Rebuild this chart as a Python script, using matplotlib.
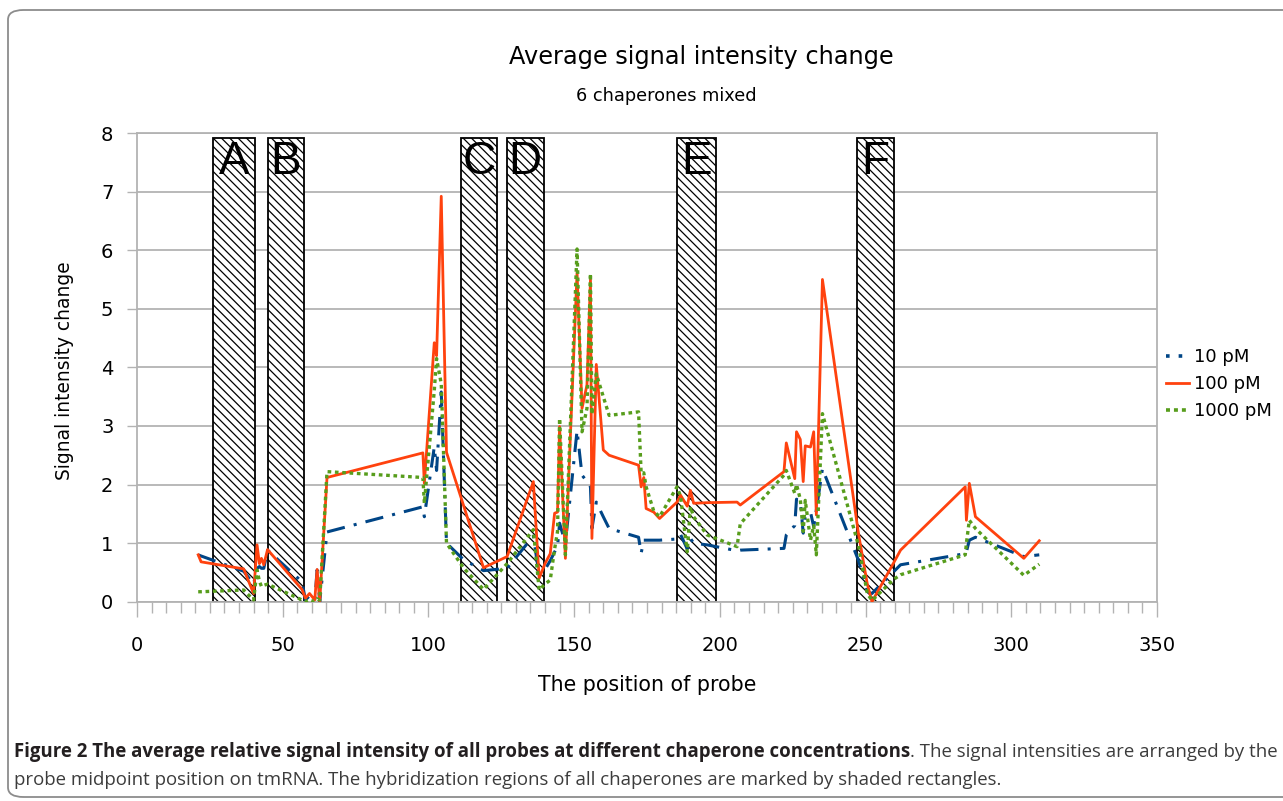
import matplotlib
matplotlib.use('Agg')
import matplotlib.pyplot as plt
from matplotlib.patches import Rectangle, FancyBboxPatch
from matplotlib.ticker import MultipleLocator
from matplotlib.lines import Line2D

# ---------------- data ----------------
positions = [21.0, 22.0, 36.6, 40.0, 41.2, 42.0, 42.7, 43.5, 44.8, 56.6,
             57.8, 59.2, 61.0, 61.8, 62.7, 65.2, 98.1, 98.6, 102.0, 102.8,
             104.4, 106.2, 112.0, 118.9, 127.0, 136.0, 138.0, 140.0, 141.8, 143.3,
             144.3, 145.0, 147.0, 151.0, 152.7, 154.4, 155.6, 156.1, 157.6, 160.0,
             162.0, 172.1, 173.0, 173.9, 174.7, 177.3, 179.3, 185.3, 186.5, 188.8,
             189.9, 191.0, 195.6, 205.9, 207.0, 222.0, 222.8, 225.7, 226.3, 227.6,
             228.6, 229.3, 231.1, 232.2, 233.1, 235.2, 247.6, 250.6, 252.2, 259.6,
             262.0, 284.2, 284.6, 285.6, 287.7, 304.3, 309.6]

pm10 = [0.80, 0.78, 0.52, 0.30, 0.57, 0.60, 0.57, 0.57, 0.88, 0.34,
        0.03, 0.10, 0.02, 0.54, 0.00, 1.19, 1.62, 1.45, 2.64, 2.24,
        3.58, 1.00, 0.72, 0.53, 0.57, 1.12, 0.45, 0.55, 0.70, 0.85,
        0.94, 1.34, 1.00, 2.92, 2.16, 2.05, 1.96, 1.25, 1.70, 1.45,
        1.25, 1.10, 0.83, 1.05, 1.05, 1.05, 1.05, 1.07, 1.15, 0.90,
        1.08, 1.00, 0.97, 0.87, 0.88, 0.91, 1.14, 1.30, 1.75, 1.72,
        1.17, 1.45, 1.53, 1.28, 1.56, 2.27, 0.70, 0.17, 0.14, 0.51,
        0.63, 0.82, 0.85, 1.05, 1.10, 0.77, 0.80]

pm100 = [0.80, 0.68, 0.56, 0.14, 0.97, 0.65, 0.74, 0.63, 0.89, 0.21,
         0.06, 0.14, 0.03, 0.55, 0.00, 2.12, 2.54, 2.02, 4.42, 4.20,
         6.92, 2.55, 1.65, 0.58, 0.77, 2.05, 0.40, 0.65, 0.82, 1.51,
         1.53, 2.99, 0.74, 5.62, 3.30, 3.70, 5.50, 1.08, 4.05, 2.59,
         2.50, 2.33, 1.96, 2.12, 1.59, 1.53, 1.42, 1.70, 1.82, 1.63,
         1.90, 1.68, 1.69, 1.70, 1.65, 2.22, 2.71, 2.10, 2.90, 2.77,
         2.05, 2.66, 2.64, 2.90, 1.48, 5.50, 1.15, 0.30, 0.00, 0.66,
         0.88, 1.96, 1.39, 2.02, 1.45, 0.74, 1.04]

pm1000 = [0.17, 0.17, 0.20, 0.03, 0.54, 0.35, 0.26, 0.28, 0.30, 0.03,
          0.00, 0.03, 0.00, 0.05, 0.03, 2.22, 2.12, 1.68, 3.60, 4.15,
          3.72, 1.00, 0.58, 0.21, 0.65, 1.23, 0.20, 0.30, 0.37, 0.90,
          1.20, 3.13, 0.80, 6.02, 2.90, 3.30, 5.60, 3.20, 3.89, 3.50,
          3.18, 3.24, 2.19, 2.20, 1.96, 1.55, 1.45, 1.96, 1.80, 0.85,
          1.62, 1.45, 1.14, 0.94, 1.33, 2.16, 2.24, 1.85, 2.00, 1.75,
          1.20, 1.73, 1.05, 1.30, 0.80, 3.21, 0.95, 0.14, 0.02, 0.38,
          0.46, 0.80, 1.00, 1.39, 1.25, 0.45, 0.64]

series_labels = ['10 pM', '100 pM', '1000 pM']

region_labels = ['A', 'B', 'C', 'D', 'E', 'F']
region_start = [26.1, 44.8, 111.2, 126.8, 185.2, 247.1]
region_end = [40.4, 57.2, 123.7, 139.5, 198.6, 259.6]
region_top = 7.92

x_ticks = [0, 50, 100, 150, 200, 250, 300, 350]
y_ticks = [0, 1, 2, 3, 4, 5, 6, 7, 8]

title = 'Average signal intensity change'
subtitle = '6 chaperones mixed'
xlabel = 'The position of probe'
ylabel = 'Signal intensity change'
caption_bold = ('Figure 2 The average relative signal intensity of all probes '
                'at different chaperone concentrations')
caption_rest1 = '. The signal intensities are arranged by the'
caption_line2 = ('probe midpoint position on tmRNA. The hybridization regions of '
                 'all chaperones are marked by shaded rectangles.')

# ---------------- figure ----------------
W, H = 1283, 801
plt.rcParams['font.family'] = ['DejaVu Sans']
plt.rcParams['hatch.linewidth'] = 0.9
fig = plt.figure(figsize=(W / 100, H / 100), dpi=100)
fig.patch.set_facecolor('white')

# outer rounded frame
frame = FancyBboxPatch((8 / W, 1 - 797 / H), 1.2, (797 - 10) / H,
                       boxstyle='round,pad=0,rounding_size=0.012',
                       transform=fig.transFigure, fill=False,
                       edgecolor='#8c8c8c', lw=1.3, clip_on=False)
fig.patches.append(frame)

ax_l, ax_r, ax_b, ax_t = 137, 1157, 601.7, 133
ax = fig.add_axes([ax_l / W, 1 - ax_b / H, (ax_r - ax_l) / W, (ax_b - ax_t) / H])
ax.set_xlim(0, 350)
ax.set_ylim(0, 8)

grid_c = '#b3b3b3'
ax.set_yticks(y_ticks)
ax.set_xticks(x_ticks)
ax.xaxis.set_minor_locator(MultipleLocator(5))
ax.yaxis.grid(True, color=grid_c, lw=1.3, zorder=0)
ax.set_axisbelow(True)
for s in ax.spines.values():
    s.set_color(grid_c)
    s.set_linewidth(1.3)
ax.tick_params(axis='x', which='major', direction='out', length=11, width=1.0,
               color=grid_c, pad=14, labelsize=14)
ax.tick_params(axis='x', which='minor', direction='out', length=8, width=1.0,
               color=grid_c)
ax.tick_params(axis='y', which='major', direction='out', length=7, width=1.0,
               color=grid_c, pad=10, labelsize=14)

# shaded regions
for lab, a, b in zip(region_labels, region_start, region_end):
    r = Rectangle((a, 0), b - a, region_top, facecolor='white', edgecolor='black',
                  hatch='\\\\\\\\', lw=1.3, zorder=2)
    ax.add_patch(r)
    ax.text((a + b) / 2, 7.30, lab, ha='center', va='baseline', fontsize=33,
            family=['Liberation Sans', 'DejaVu Sans'], color='black', zorder=5)

# series
c10, c100, c1000 = '#004586', '#ff420e', '#579d1c'
ax.plot(positions, pm10, color=c10, lw=2.2, ls=(0, (6, 3, 1, 3)), zorder=4,
        label=series_labels[0])
ax.plot(positions, pm100, color=c100, lw=2.0, ls='-', zorder=4,
        label=series_labels[1])
ax.plot(positions, pm1000, color=c1000, lw=2.4, ls=(0, (1.1, 1.1)), zorder=4,
        label=series_labels[2])

handles = [Line2D([], [], color=c10, lw=2.6, ls=(0, (1, 2.5))),
           Line2D([], [], color=c100, lw=2.0, ls='-'),
           Line2D([], [], color=c1000, lw=2.6, ls=(0, (1.1, 1.1)))]
fig.legend(handles, series_labels, loc='center left',
           bbox_to_anchor=(1166 / W, 1 - 384 / H), frameon=False,
           fontsize=13, handlelength=1.25, handletextpad=0.3, labelspacing=0.5,
           borderpad=0, borderaxespad=0)

# titles and labels
fig.text(701 / W, 1 - 57 / H, title, ha='center', va='center', fontsize=17.3)
fig.text(666 / W, 1 - 96 / H, subtitle, ha='center', va='center', fontsize=12.8)
fig.text(647 / W, 1 - 685 / H, xlabel, ha='center', va='center', fontsize=14.8)
fig.text(64 / W, 1 - 371 / H, ylabel, ha='center', va='center', fontsize=13.4,
         rotation=90)

# caption, fitted to the width of the original line
cap_font = ['Open Sans', 'DejaVu Sans']
renderer = fig.canvas.get_renderer()
fs = 12.0
x0 = 14
target_right = 1271
t1 = fig.text(x0 / W, 1 - 757 / H, caption_bold, fontsize=fs, fontweight='bold',
              family=cap_font, color='#231f20', va='baseline', ha='left')
t2 = fig.text(0, 1 - 757 / H, caption_rest1, fontsize=fs, family=cap_font,
              color='#3c3c3c', va='baseline', ha='left')
w1 = t1.get_window_extent(renderer).width
w2 = t2.get_window_extent(renderer).width
fs = fs * (target_right - x0) / (w1 + w2)
t1.set_fontsize(fs)
t2.set_fontsize(fs)
w1 = t1.get_window_extent(renderer).width
t2.set_position(((x0 + w1) / W, 1 - 757 / H))
fig.text(x0 / W, 1 - 785 / H, caption_line2, fontsize=fs, family=cap_font,
         color='#3c3c3c', va='baseline', ha='left')

fig.savefig('out.png', dpi=100, facecolor='white')
